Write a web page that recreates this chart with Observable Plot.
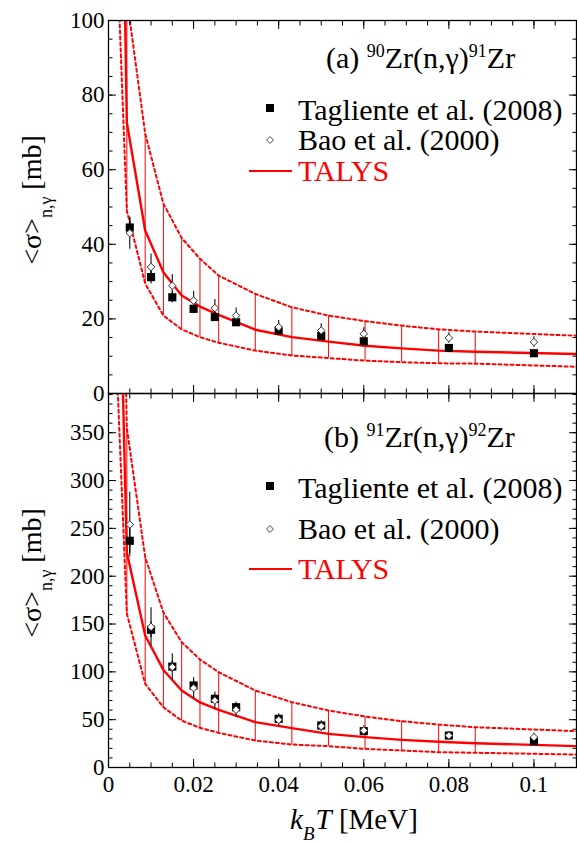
<!DOCTYPE html>
<html><head><meta charset="utf-8">
<script src="https://cdn.jsdelivr.net/npm/d3@7"></script>
<script src="https://cdn.jsdelivr.net/npm/@observablehq/plot@0.6"></script>
<style>
body{margin:0;background:#fff;}
#chart{position:relative;width:577px;height:843px;}
#chart svg{display:block;overflow:visible;}
</style></head><body><div id="chart"></div>
<script>
// ---- data ----
// TALYS grid (kT in MeV, T9 = 0.01, 0.05, 0.1, 0.15, 0.2, 0.25, 0.3, 0.4 ... 1.0, 1.5)
const talysKT = [0.00086, 0.00431, 0.00862, 0.0129, 0.0172, 0.0215, 0.0259, 0.0345, 0.0431, 0.0517, 0.0603, 0.0689, 0.0776, 0.0862, 0.1293];
const talysA = [310, 72.7, 43.7, 32.5, 26.3, 23.3, 21.1, 17.1, 15.1, 13.9, 12.8, 12.1, 11.5, 11.2, 10.1];
const talysAUp = [600, 106, 69.7, 50.9, 41.7, 36.1, 31.6, 26.7, 23.1, 20.9, 19.4, 18.2, 17.2, 16.6, 14.6];
const talysALo = [152, 49, 29.5, 20.9, 17.2, 15.1, 13.6, 11.5, 10.2, 9.5, 8.8, 8.4, 8.1, 8.0, 6.5];
const talysB = [856, 225, 138, 102, 80.5, 68, 60.3, 47.4, 41.1, 35.2, 31.7, 28.9, 26.9, 25.4, 19.8];
const talysBUp = [1100, 355, 220, 162, 131, 113, 99.6, 80.5, 68.3, 59.6, 53.3, 48.4, 44.9, 42.1, 34.7];
const talysBLo = [537, 161, 87.5, 63, 49, 41.5, 36.2, 28.2, 24, 22.3, 19.5, 17.8, 16, 15.4, 12.1];

const expKT = [0.005, 0.010, 0.015, 0.020, 0.025, 0.030, 0.040, 0.050, 0.060, 0.080, 0.100];
const tagA = [44.5, 31.2, 25.8, 22.7, 20.5, 19.1, 16.9, 15.4, 14.0, 12.2, 10.8];
const tagAErr = [2.5, 1.8, 1.5, 1.3, 1.2, 1.1, 1.0, 0.9, 0.8, 0.7, 0.6];
const baoA = [43.0, 33.9, 28.9, 24.9, 22.9, 20.9, 17.8, 16.9, 16.0, 14.9, 13.8];
const baoAErr = [4.3, 3.5, 3.0, 2.5, 2.3, 2.0, 1.8, 1.8, 1.6, 1.4, 1.4];
const tagB = [237, 144, 105.5, 85.7, 71.8, 63, 50.9, 43.9, 38, 33.4, 27.5];
const tagBErr = [13, 8, 6, 4.7, 4, 3.5, 2.8, 2.4, 2.1, 1.8, 1.5];
const baoB = [254, 147, 105, 83, 70, 60.3, 49.8, 43.2, 38.7, 33.4, 31.7];
const baoBErr = [34, 20, 14, 11, 9, 8, 6.5, 5.6, 5, 4.3, 4.1];

const xTicks = [0, 0.02, 0.04, 0.06, 0.08, 0.1];
const xTickLabels = ["0", "0.02", "0.04", "0.06", "0.08", "0.1"];
const xMinor = d3.range(0, 0.1101, 0.005);
const yTicksA = [0, 20, 40, 60, 80, 100];
const yTickLabelsA = ["0", "20", "40", "60", "80", "100"];
const yMinorA = d3.range(0, 101, 5);
const yTicksB = [0, 50, 100, 150, 200, 250, 300, 350];
const yTickLabelsB = ["0", "50", "100", "150", "200", "250", "300", "350"];
const yMinorB = d3.range(0, 391, 10);

const legendA = ["Tagliente et al. (2008)", "Bao et al. (2000)", "TALYS"];

const FONT = "'Liberation Serif', 'Times New Roman', serif";
const RED = "#ff0000";

function panel(o) {
  const grid = talysKT.map((k, i) => ({k, c: o.c[i], u: o.u[i], l: o.l[i]}));
  const tag = expKT.map((k, i) => ({k, v: o.tv[i], e: o.te[i]}));
  const bao = expKT.map((k, i) => ({k, v: o.bv[i], e: o.be[i]}));
  const marks = [
    Plot.ruleX(grid.slice(1), {x: "k", y1: "l", y2: "u", stroke: RED, strokeWidth: 1, clip: true}),
    Plot.line(grid, {x: "k", y: "u", stroke: RED, strokeWidth: 2, strokeDasharray: "3,3", clip: true}),
    Plot.line(grid, {x: "k", y: "l", stroke: RED, strokeWidth: 2, strokeDasharray: "3,3", clip: true}),
    Plot.line(grid, {x: "k", y: "c", stroke: RED, strokeWidth: 2.4, clip: true}),
    Plot.ruleX(bao, {x: "k", y1: d => d.v - d.e, y2: d => d.v + d.e, stroke: "#222", strokeWidth: 1.2}),
    Plot.ruleX(tag, {x: "k", y1: d => d.v - d.e, y2: d => d.v + d.e, stroke: "#000", strokeWidth: 1.2}),
    Plot.dot(tag, {x: "k", y: "v", symbol: "square", fill: "black", stroke: "none", r: 4.6}),
    Plot.dot(bao, {x: "k", y: "v", symbol: "diamond2", fill: "white", stroke: "#333", strokeWidth: 1, r: 3.4}),
    Plot.frame({stroke: "black", strokeWidth: 1.3}),
    Plot.axisY(o.yTicks, {anchor: "left", tickSize: 0, tickPadding: 4, fontFamily: FONT, fontSize: 23, tickFormat: d => o.yLabels[o.yTicks.indexOf(d)], label: null}),
    Plot.axisY(o.yTicks, {anchor: "left", tickSize: -8, fill: "none", label: null}),
    Plot.axisY(o.yMinor, {anchor: "left", tickSize: -4.5, fill: "none", label: null}),
    Plot.axisY(o.yTicks, {anchor: "right", tickSize: -8, fill: "none", label: null}),
    Plot.axisY(o.yMinor, {anchor: "right", tickSize: -4.5, fill: "none", label: null}),
    Plot.axisX(xTicks, {anchor: "top", tickSize: -8, fill: "none", label: null}),
    Plot.axisX(xMinor, {anchor: "top", tickSize: -4.5, fill: "none", label: null}),
    Plot.axisX(xTicks, {anchor: "bottom", tickSize: -8, fill: "none", label: null}),
    Plot.axisX(xMinor, {anchor: "bottom", tickSize: -4.5, fill: "none", label: null})
  ];
  if (o.showX) marks.push(Plot.axisX(xTicks, {anchor: "bottom", tickSize: 0, tickPadding: 8, fontFamily: FONT, fontSize: 23, tickFormat: d => xTickLabels[xTicks.indexOf(d)], label: null}));
  return Plot.plot({
    width: 577, height: o.height,
    marginLeft: 108, marginRight: 1, marginTop: o.marginTop, marginBottom: o.marginBottom,
    x: {domain: [0, 0.11]},
    y: {domain: o.yDomain},
    style: {fontFamily: FONT, fontSize: "23px", color: "black", background: "white", overflow: "visible"},
    marks
  });
}

function decorate(svg, o) {
  const s = d3.select(svg);
  const g = s.append("g").attr("font-family", FONT).attr("fill", "black").attr("text-anchor", "start");
  // panel title
  const t = g.append("text").attr("x", o.titleX).attr("y", o.titleY).attr("font-size", 30);
  t.append("tspan").text(o.label + " ");
  t.append("tspan").attr("font-size", 18).attr("dy", -11).text(o.a1);
  t.append("tspan").attr("dy", 11).text("Zr(n,γ)");
  t.append("tspan").attr("font-size", 18).attr("dy", -11).text(o.a2);
  t.append("tspan").attr("dy", 11).text("Zr");
  // legend
  g.append("rect").attr("x", 270 - 4).attr("y", o.l1 - 12 - 4).attr("width", 8).attr("height", 8).attr("fill", "black");
  g.append("text").attr("x", 298).attr("y", o.l1).attr("font-size", 30).text(legendA[0]);
  g.append("path").attr("d", d3.symbol(d3.symbolDiamond2, 30)()).attr("transform", `translate(270,${o.l2 - 10})`).attr("fill", "white").attr("stroke", "#444").attr("stroke-width", 1);
  g.append("text").attr("x", 298).attr("y", o.l2).attr("font-size", 30).text(legendA[1]);
  g.append("line").attr("x1", 249).attr("x2", 292).attr("y1", o.l3 - 10).attr("y2", o.l3 - 10).attr("stroke", RED).attr("stroke-width", 2);
  g.append("text").attr("x", 298).attr("y", o.l3).attr("font-size", 30).attr("fill", RED).text(legendA[2]);
  // y title
  const yt = g.append("text").attr("transform", `translate(41,${o.yTitleY}) rotate(-90)`).attr("text-anchor", "middle").attr("font-size", 28);
  yt.append("tspan").text("<σ>");
  yt.append("tspan").attr("font-size", 18).attr("dy", 11).text("n,γ");
  yt.append("tspan").attr("dy", -11).text(" [mb]");
}

const chart = document.getElementById("chart");
const svgA = panel({c: talysA, u: talysAUp, l: talysALo, tv: tagA, te: tagAErr, bv: baoA, be: baoAErr,
  yDomain: [0, 100], yTicks: yTicksA, yLabels: yTickLabelsA, yMinor: yMinorA,
  height: 393, marginTop: 20, marginBottom: 0, showX: false});
const svgB = panel({c: talysB, u: talysBUp, l: talysBLo, tv: tagB, te: tagBErr, bv: baoB, be: baoBErr,
  yDomain: [0, 391], yTicks: yTicksB, yLabels: yTickLabelsB, yMinor: yMinorB,
  height: 450, marginTop: 0, marginBottom: 76, showX: true});
chart.appendChild(svgA);
chart.appendChild(svgB);
decorate(svgA, {label: "(a)", a1: "90", a2: "91", titleX: 326, titleY: 68, l1: 120, l2: 150, l3: 181, yTitleY: 200});
decorate(svgB, {label: "(b)", a1: "91", a2: "92", titleX: 324, titleY: 54, l1: 105, l2: 146, l3: 186, yTitleY: 180});
// x title
const xt = d3.select(svgB).append("text").attr("x", 290).attr("y", 436).attr("text-anchor", "start").attr("font-family", FONT).attr("font-size", 29).attr("fill", "black");
xt.append("tspan").attr("font-style", "italic").text("k");
xt.append("tspan").attr("font-style", "italic").attr("font-size", 19).attr("dy", 11).text("B");
xt.append("tspan").attr("font-style", "italic").attr("dx", 1).attr("dy", -11).text("T");
xt.append("tspan").text(" [MeV]");
</script></body></html>
